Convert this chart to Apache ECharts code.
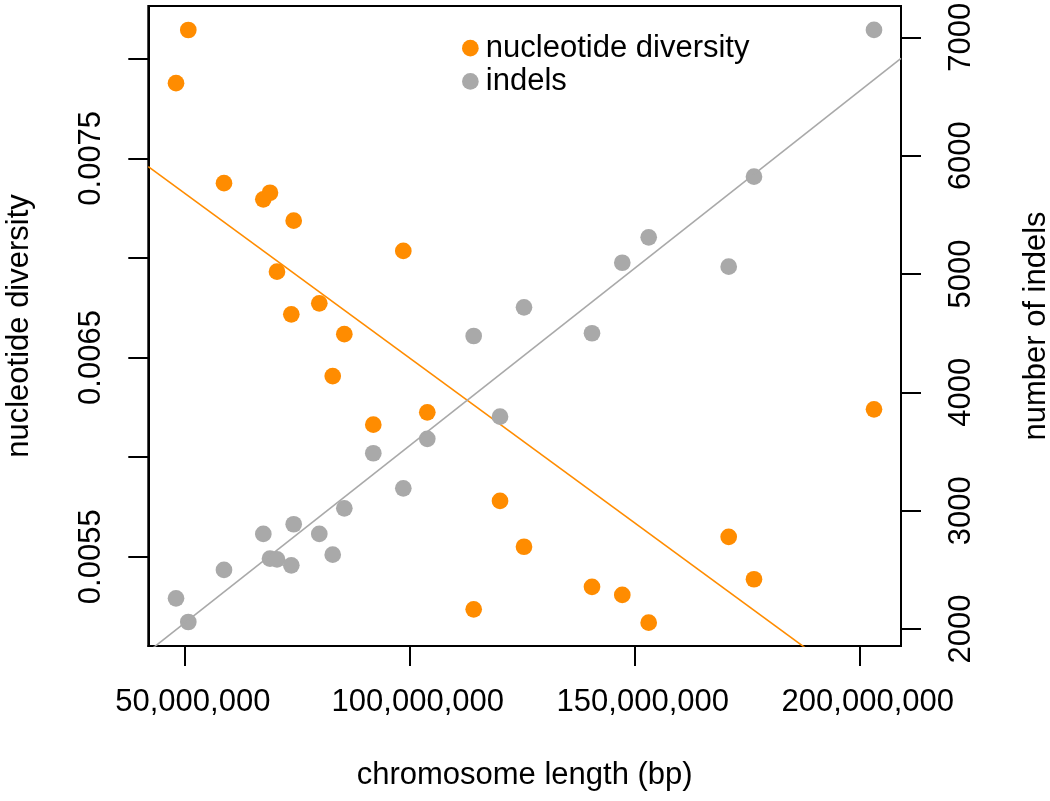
<!DOCTYPE html>
<html>
<head>
<meta charset="utf-8">
<script src="https://cdn.jsdelivr.net/npm/echarts@6/dist/echarts.min.js"></script>
<style>
html,body{margin:0;padding:0;background:#fff;}
#chart{width:1050px;height:801px;}
</style>
</head>
<body>
<div id="chart"></div>
<script>
// chromosome length (bp)
var chromLength = [48160000, 50890000, 58820000, 67560000, 69040000, 70600000, 73780000, 74310000, 80000000, 82980000, 85560000, 92000000, 98670000, 104000000, 114310000, 120160000, 125490000, 140600000, 147330000, 153200000, 170980000, 176600000, 203270000];
// nucleotide diversity (left axis)
var nucDiversity = [0.007877, 0.008144, 0.007375, 0.007294, 0.007327, 0.006931, 0.006717, 0.007187, 0.006772, 0.006407, 0.006617, 0.006163, 0.007035, 0.006225, 0.005236, 0.005780, 0.005550, 0.005349, 0.005308, 0.005169, 0.005600, 0.005387, 0.006240];
// number of indels (right axis)
var indels = [2259, 2059, 2499, 2803, 2594, 2589, 2538, 2885, 2803, 2628, 3020, 3485, 3189, 3607, 4476, 3794, 4718, 4499, 5095, 5310, 5062, 5822, 7062];
// fitted regression lines (endpoints)
var diversityFit = [[42000000, 0.0074578], [209270000, 0.0046906]];
var indelFit = [[42000000, 1808.8], [209270000, 6820.9]];
// ticks
var xTickValues = [50000000, 100000000, 150000000, 200000000];
var xTickLabels = ['50,000,000', '100,000,000', '150,000,000', '200,000,000'];
var leftTickValues = [0.0055, 0.0060, 0.0065, 0.0070, 0.0075, 0.0080];
var leftLabelValues = [0.0055, 0.0065, 0.0075];
var leftLabelTexts = ['0.0055', '0.0065', '0.0075'];
var rightTickValues = [2000, 3000, 4000, 5000, 6000, 7000];
var rightTickLabels = ['2000', '3000', '4000', '5000', '6000', '7000'];

var orange = '#FF8C00', gray = '#A9A9A9';
var FONT = 'Liberation Sans';
var FS = 31;

function pairs(xs, ys) { return xs.map(function (x, i) { return [x, ys[i]]; }); }

var chart = echarts.init(document.getElementById('chart'), null, {renderer: 'canvas'});
chart.setOption({
  animation: false,
  backgroundColor: '#fff',
  textStyle: {fontFamily: FONT},
  grid: {
    left: 148.3, right: 149, top: 6, bottom: 155,
    show: true, borderColor: '#000', borderWidth: 2,
    outerBoundsMode: 'none'
  },
  legend: {
    orient: 'vertical',
    left: 457, top: 26.5,
    itemWidth: 21, itemHeight: 16.7, itemGap: 0,
    icon: 'circle',
    textStyle: {fontFamily: FONT, fontSize: FS, color: '#000', lineHeight: 33.3},
    data: ['nucleotide diversity', 'indels']
  },
  xAxis: {
    type: 'value', min: 42000000, max: 209270000,
    name: 'chromosome length (bp)', nameLocation: 'middle', nameGap: 114,
    nameTextStyle: {fontFamily: FONT, fontSize: FS, color: '#000'},
    axisLine: {show: true, onZero: false, lineStyle: {color: '#000', width: 2}},
    axisTick: {show: true, customValues: xTickValues, length: 20, lineStyle: {color: '#000', width: 2}},
    axisLabel: {
      customValues: xTickValues, margin: 41, color: '#000', fontFamily: FONT, fontSize: FS,
      padding: [0, 0, 0, 17],
      formatter: function (v) { var i = xTickValues.indexOf(v); return i >= 0 ? xTickLabels[i] : ''; }
    },
    splitLine: {show: false}
  },
  yAxis: [{
    type: 'value', position: 'left', min: 0.0050518, max: 0.0082646,
    name: 'nucleotide diversity', nameLocation: 'middle', nameGap: 113, nameRotate: 90,
    nameTextStyle: {fontFamily: FONT, fontSize: FS, color: '#000'},
    axisLine: {show: true, onZero: false, lineStyle: {color: '#000', width: 2}},
    axisTick: {show: true, customValues: leftTickValues, length: 20, lineStyle: {color: '#000', width: 2}},
    axisLabel: {
      customValues: leftLabelValues, rotate: 90, margin: 41, color: '#000', fontFamily: FONT, fontSize: FS,
      formatter: function (v) {
        for (var i = 0; i < leftLabelValues.length; i++) if (Math.abs(leftLabelValues[i] - v) < 1e-9) return leftLabelTexts[i];
        return '';
      }
    },
    splitLine: {show: false}
  }, {
    type: 'value', position: 'right', min: 1856.3, max: 7264.5,
    name: 'number of indels', nameLocation: 'middle', nameGap: 120, nameRotate: 90,
    nameTextStyle: {fontFamily: FONT, fontSize: FS, color: '#000'},
    axisLine: {show: true, onZero: false, lineStyle: {color: '#000', width: 2}},
    axisTick: {show: true, customValues: rightTickValues, length: 20, lineStyle: {color: '#000', width: 2}},
    axisLabel: {
      customValues: rightTickValues, rotate: 90, margin: 45, color: '#000', fontFamily: FONT, fontSize: FS,
      formatter: function (v) { var i = rightTickValues.indexOf(v); return i >= 0 ? rightTickLabels[i] : ''; }
    },
    splitLine: {show: false}
  }],
  series: [{
    name: 'nucleotide diversity', type: 'scatter', yAxisIndex: 0,
    symbol: 'circle', symbolSize: 16.7, itemStyle: {color: orange, opacity: 1},
    data: pairs(chromLength, nucDiversity), z: 2
  }, {
    name: 'diversityFit', type: 'line', yAxisIndex: 0, showSymbol: false, symbol: 'none',
    lineStyle: {color: orange, width: 1.6}, data: diversityFit, clip: true, z: 3
  }, {
    name: 'indels', type: 'scatter', yAxisIndex: 1,
    symbol: 'circle', symbolSize: 16.7, itemStyle: {color: gray, opacity: 1},
    data: pairs(chromLength, indels), z: 4
  }, {
    name: 'indelFit', type: 'line', yAxisIndex: 1, showSymbol: false, symbol: 'none',
    lineStyle: {color: gray, width: 1.6}, data: indelFit, clip: true, z: 5
  }]
});
</script>
</body>
</html>
